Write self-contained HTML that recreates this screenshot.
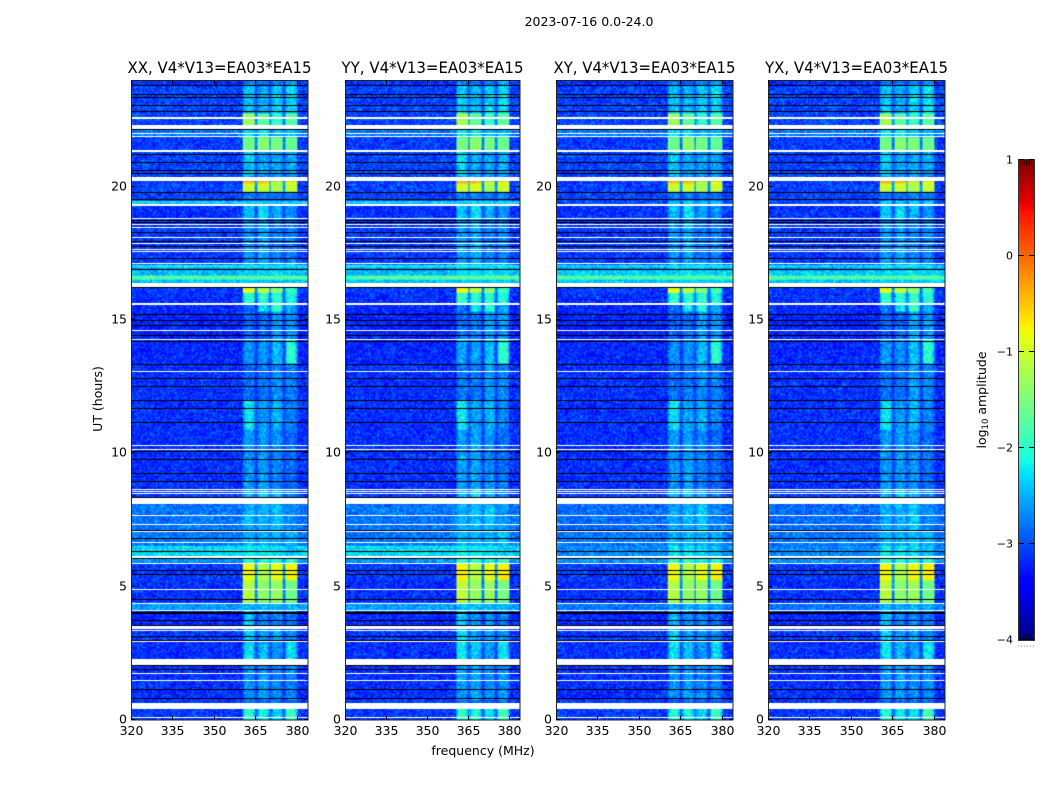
<!DOCTYPE html>
<html>
<head>
<meta charset="utf-8">
<title>2023-07-16 0.0-24.0</title>
<style>
html,body{margin:0;padding:0;background:#fff;}
#page{position:relative;width:1050px;height:800px;overflow:hidden;background:#fff;}
canvas{position:absolute;}
svg{position:absolute;left:0;top:0;}
text{font-family:"DejaVu Sans","Liberation Sans",sans-serif;fill:#000;}
</style>
</head>
<body>
<div id="page">
<svg id="overlay" width="1050" height="800">
  <text x="589" y="26" text-anchor="middle" font-size="12.5">2023-07-16 0.0-24.0</text>
  <text x="483" y="755" text-anchor="middle" font-size="12.5">frequency (MHz)</text>
  <text transform="translate(102,399) rotate(-90)" text-anchor="middle" font-size="12.5">UT (hours)</text>
  <text transform="translate(986,400) rotate(-90)" text-anchor="middle" font-size="12.5">log<tspan font-size="8.5" dy="2">10</tspan><tspan dy="-2"> amplitude</tspan></text>
</svg>
</div>
<script>
// ---- chart data (log10 amplitude, UT hours, MHz) ----
const panelTitles = ["XX, V4*V13=EA03*EA15","YY, V4*V13=EA03*EA15","XY, V4*V13=EA03*EA15","YX, V4*V13=EA03*EA15"];
const xTickLabels = [320,335,350,365,380];
const yTickLabels = [0,5,10,15,20];
const colorbarTicks = [1,0,-1,-2,-3,-4];
const panelIsCross = [false,false,true,true];
const panelBandOffset = [[0,0,0,0],[0.06,0.05,0.03,0.05],[0,0.03,0,0],[0.02,0,0.06,0.03]];
const bandStartMHz = [360.5,365.7,370.7,375.7];
const bandEndMHz = [364.9,369.9,374.9,380];
// Time segments: edges in UT, top to bottom; one level per segment in the arrays below.
const segmentEdgesUT = [24,23.81,22.76,22.31,21.86,21.34,20.4,20.21,20.1,19.8,19.48,19.37,19.31,18.83,17.14,17.06,16.95,16.88,16.65,16.54,16.39,16.2,16.01,15.6,15.3,14.25,13.35,12,10.88,8.63,8.33,8.1,7.13,6.56,6.15,5.89,5.25,4.39,4.09,3.56,2.93,2.25,0.75,0.45,0];
const backgroundCo = [-3.15,-3.05,-3.05,-2.8,-3.1,-3.05,-3,-3.1,-3.05,-3.05,-2.2,-3,-3.15,-3.1,-2.9,-2.15,-2.7,-2.45,-1.75,-2.4,-2,-3.1,-3.15,-3.2,-3.22,-3.2,-3.15,-3.15,-3.15,-3.1,-2.9,-2.8,-2.8,-2.3,-2.65,-3.1,-3.15,-2.6,-3.2,-3.1,-3.15,-3.15,-3.1,-3.1];
const backgroundCross = [-3.15,-3.05,-3.05,-2.8,-3.1,-3.05,-3,-3.1,-3.05,-3.05,-3,-3,-3.15,-3.1,-2.9,-2.3,-2.7,-2.35,-1.8,-2.4,-2.05,-3.1,-3.15,-3.2,-3.22,-3.2,-3.15,-3.15,-3.15,-3.1,-2.9,-2.85,-2.8,-2.7,-2.65,-3.1,-3.15,-2.8,-3.2,-3.1,-3.15,-3.15,-3.1,-3.1];
const band1Level = [-2.8,-2.4,-1.3,-2.25,-1.6,-2.35,-2.7,-0.5,-1.05,-2.8,-2.3,-2.7,-2.45,-2.65,-2.5,-2.2,-2.5,-2.35,-1.75,-2.4,-2,-0.9,-1.95,-2.85,-2.9,-2.65,-2.85,-2.25,-2.65,-2.5,-2.7,-2.55,-2.5,-2.2,-1.95,-0.8,-1.15,-2.5,-2.45,-2.35,-2.25,-2.65,-2.9,-2];
const band2Level = [-2.9,-2.5,-1.7,-2.2,-1.45,-2.55,-2.7,-0.55,-1,-2.8,-2.3,-2.7,-2.25,-2.55,-2.5,-2.2,-2.5,-2.3,-1.75,-2.4,-2,-1.15,-1.95,-2.2,-2.85,-2.65,-2.8,-2.6,-2.6,-2.35,-2.7,-2.5,-2.5,-2.2,-1.95,-1.2,-1.4,-2.5,-2.7,-2.6,-2.45,-2.6,-2.9,-2.1];
const band3Level = [-2.75,-2.35,-1.9,-2.45,-1.55,-2.55,-2.7,-1.1,-1.25,-2.8,-2.3,-2.7,-2.55,-2.75,-2.5,-2.2,-2.5,-2.3,-1.75,-2.4,-2,-1.45,-1.95,-1.95,-2.6,-2.45,-2.65,-2.5,-2.7,-2.5,-2.7,-2.4,-2.5,-2.3,-2.05,-0.85,-1.35,-2.5,-2.7,-2.6,-2.65,-2.7,-2.9,-2.3];
const band4Level = [-2.65,-2.3,-1.75,-2.45,-1.65,-2.55,-2.7,-0.85,-1.05,-2.8,-2.3,-2.7,-2.65,-2.75,-2.5,-2.2,-2.5,-2.35,-1.75,-2.4,-2,-1.85,-2.05,-2.55,-2.65,-2,-2.75,-2.75,-2.85,-2.75,-2.7,-2.7,-2.5,-2.4,-1.95,-0.75,-1.6,-2.5,-2.8,-2.7,-2.25,-2.7,-2.9,-1.85];
// Flagged (white) rows and zero-amplitude (black) rows.
const flaggedUT = [22.56,22.24,21.98,21.9,21.33,20.3,19.31,18.81,18.59,18.46,18.1,17.88,17.66,17.56,17.13,16.91,16.3,15.59,14.61,14.28,13.08,10.3,10.15,8.63,8.56,8.49,8.2,7.66,7.35,7.06,6.66,6.12,5.88,4.88,4.38,4.1,3.49,3.34,2.93,2.18,1.75,1.5,0.54,0.09];
const flaggedWidthH = [0.06,0.15,0.05,0.05,0.06,0.16,0.06,0.05,0.05,0.05,0.05,0.05,0.05,0.05,0.05,0.05,0.15,0.06,0.05,0.05,0.05,0.05,0.05,0.05,0.04,0.04,0.21,0.05,0.05,0.05,0.05,0.08,0.05,0.05,0.05,0.05,0.15,0.05,0.05,0.23,0.05,0.05,0.21,0.05];
const zeroRowUT = [23.79,23.46,23.36,23.03,22.8,22.15,21.2,20.91,20.61,20.48,19.79,19.51,18.75,18.66,18.27,17.96,17.75,17.31,16.88,16.21,15.19,15,14.81,14.43,14.21,13.32,12.8,12.51,11.99,11.69,11.16,10.06,9.78,9.25,8.95,8.35,7.1,6.79,6.31,6.04,5.6,5.45,4.53,4.02,3.98,3.75,3.56,3.12,3,2.03,1.88,1.16,0.79];
// Pixel-scale speckle texture offsets (single pixels cannot be read individually).
const speckle = [-0.3,0.12,-0.05,0.42,-0.22,0.05,-0.38,0.25,-0.12,0.6,-0.28,0.02,0.18,-0.42,0.3,-0.08,-0.2,0.48,-0.32,0.1,-0.02,0.22,-0.45,0.35,-0.15,0.08,-0.25,0.55,-0.1,0.15,-0.35,0.28,0,-0.18,0.4,-0.4,0.06,-0.06,0.2,-0.3,0.5,-0.14,-0.24,0.32,-0.04,0.14,-0.36,0.24,-0.2,0.45,-0.1,-0.28,0.1,0.36,-0.44,0.04,-0.16,0.26,-0.34,0.16,0.02];
const bandLevels = [band1Level,band2Level,band3Level,band4Level];

// ---- layout ----
const panelLeft = [131,345,556,768];
const panelWidth = [177,175,177,177];
const titleWidth = [184,182,182,183];
const plotTop = 80, plotHeight = 640;
const freqMin = 320, freqMax = 384, utMax = 24, cbMin = -4, cbMax = 1;
const cbX = 1019, cbY = 160, cbW = 15, cbH = 480;
const svgNS = "http://www.w3.org/2000/svg";
const overlay = document.getElementById("overlay");
const page = document.getElementById("page");

function yOfUT(ut){ return plotTop + plotHeight * (1 - ut / utMax); }
function xOfFreq(p, f){ return panelLeft[p] + panelWidth[p] * (f - freqMin) / (freqMax - freqMin); }
function yOfCb(v){ return cbY + cbH * (cbMax - v) / (cbMax - cbMin); }
function jet(t){
  t = Math.max(0, Math.min(1, t));
  function ramp(pts){
    for (let i = 1; i < pts.length; i++) {
      if (t <= pts[i][0]) {
        const a = pts[i-1], b = pts[i];
        return a[1] + (b[1] - a[1]) * (t - a[0]) / (b[0] - a[0]);
      }
    }
    return pts[pts.length-1][1];
  }
  return [
    ramp([[0,0],[0.35,0],[0.66,1],[0.89,1],[1,0.5]]) * 255,
    ramp([[0,0],[0.125,0],[0.375,1],[0.64,1],[0.91,0],[1,0]]) * 255,
    ramp([[0,0.5],[0.11,1],[0.34,1],[0.65,0],[1,0]]) * 255
  ];
}
function levelColor(v){ return jet((v - cbMin) / (cbMax - cbMin)); }
function segmentAt(ut){
  for (let i = 0; i < segmentEdgesUT.length - 1; i++) {
    if (ut <= segmentEdgesUT[i] && ut >= segmentEdgesUT[i+1]) return i;
  }
  return segmentEdgesUT.length - 2;
}
function cellValue(p, freq, ut, c, r){
  const s = segmentAt(ut);
  const bg = (panelIsCross[p] ? backgroundCross : backgroundCo)[s];
  let v = bg, amp = 0.5;
  const first = bandStartMHz[0], last = bandEndMHz[bandEndMHz.length-1];
  if (freq >= first && freq <= last) {
    let inBand = -1, next = 0;
    for (let b = 0; b < bandStartMHz.length; b++) {
      if (freq >= bandStartMHz[b] && freq <= bandEndMHz[b]) inBand = b;
      if (freq > bandEndMHz[b]) next = b;
    }
    if (inBand >= 0) {
      const lvl = bandLevels[inBand][s] + panelBandOffset[p][inBand];
      if (lvl > -1.8) {
        v = lvl;
        amp = 0.16;
      } else {
        const d = Math.min(freq - bandStartMHz[inBand], bandEndMHz[inBand] - freq);
        const shape = d < 1 ? 0.55 + 0.45 * d : 1;
        v = bg + (lvl - bg) * shape;
        amp = 0.42;
      }
    } else {
      v = bg + 0.22 * (bandLevels[next][s] - bg);
      amp = 0.3;
    }
  }
  const h = (Math.imul(c + 1, 73856093) ^ Math.imul(r + 1, 19349663) ^ Math.imul(p + 1, 83492791)) >>> 0;
  const idx = (h >>> 7) % speckle.length;
  return v + amp * speckle[idx] * 1.5;
}

// ---- heatmap panels ----
panelTitles.forEach(function(title, p){
  const L = panelLeft[p], W = panelWidth[p];
  const cols = Math.round(W / 1.33), rows = Math.round(plotHeight / 1.33);
  const off = document.createElement("canvas");
  off.width = cols; off.height = rows;
  const octx = off.getContext("2d");
  const img = octx.createImageData(cols, rows);
  for (let r = 0; r < rows; r++) {
    const ut = utMax * (1 - (r + 0.5) / rows);
    for (let c = 0; c < cols; c++) {
      const f = freqMin + (freqMax - freqMin) * (c + 0.5) / cols;
      const col = levelColor(cellValue(p, f, ut, c, r));
      const k = (r * cols + c) * 4;
      img.data[k] = col[0]; img.data[k+1] = col[1]; img.data[k+2] = col[2]; img.data[k+3] = 255;
    }
  }
  octx.putImageData(img, 0, 0);

  const cv = document.createElement("canvas");
  
  
  cv.width = W; cv.height = plotHeight;
  cv.style.left = L + "px";
  cv.style.top = plotTop + "px";
  const ctx = cv.getContext("2d");
  ctx.imageSmoothingEnabled = true;
  ctx.drawImage(off, 0, 0, cv.width, cv.height);
  ctx.fillStyle = "#fff";
  flaggedUT.forEach(function(ut, i){
    const h = Math.max(1, Math.round(flaggedWidthH[i] * plotHeight / utMax));
    ctx.fillRect(0, Math.round(yOfUT(ut) - plotTop - h / 2), cv.width, h);
  });
  ctx.fillStyle = "#000";
  zeroRowUT.forEach(function(ut){
    ctx.fillRect(0, Math.round(yOfUT(ut) - plotTop - 0.5), cv.width, 1);
  });
  page.insertBefore(cv, overlay);

  // frame
  const frame = document.createElementNS(svgNS, "rect");
  
  
  frame.setAttribute("x", L + 0.5);
  frame.setAttribute("y", plotTop + 0.5);
  frame.setAttribute("width", W - 0.5);
  frame.setAttribute("height", plotHeight - 0.5);
  frame.setAttribute("fill", "none");
  frame.setAttribute("stroke", "#222");
  frame.setAttribute("stroke-width", "1");
  overlay.appendChild(frame);

  // title
  const tt = document.createElementNS(svgNS, "text");
  
  
  tt.setAttribute("x", L + W / 2);
  tt.setAttribute("y", 73);
  tt.setAttribute("text-anchor", "middle");
  tt.setAttribute("font-size", "16");
  tt.setAttribute("textLength", titleWidth[p]);
  tt.setAttribute("lengthAdjust", "spacingAndGlyphs");
  tt.textContent = title;
  overlay.appendChild(tt);

  // x ticks
  xTickLabels.forEach(function(f){
    const x = Math.round(xOfFreq(p, f)) + 0.5;
    [[plotTop + plotHeight, plotTop + plotHeight - 4],[plotTop, plotTop + 4]].forEach(function(pair){
      const ln = document.createElementNS(svgNS, "line");
      
      
      ln.setAttribute("x1", x); ln.setAttribute("x2", x);
      ln.setAttribute("y1", pair[0]); ln.setAttribute("y2", pair[1]);
      ln.setAttribute("stroke", "#000");
      overlay.appendChild(ln);
    });
    const lb = document.createElementNS(svgNS, "text");
    
    
    lb.setAttribute("x", x);
    lb.setAttribute("y", 735);
    lb.setAttribute("text-anchor", "middle");
    lb.setAttribute("font-size", "12.5");
    lb.textContent = f;
    overlay.appendChild(lb);
  });

  // y ticks
  yTickLabels.forEach(function(u){
    const y = Math.round(yOfUT(u)) - 0.5;
    [[L, L + 4],[L + W, L + W - 4]].forEach(function(pair){
      const ln = document.createElementNS(svgNS, "line");
      
      
      ln.setAttribute("x1", pair[0]); ln.setAttribute("x2", pair[1]);
      ln.setAttribute("y1", y); ln.setAttribute("y2", y);
      ln.setAttribute("stroke", "#000");
      overlay.appendChild(ln);
    });
    const lb = document.createElementNS(svgNS, "text");
    
    
    lb.setAttribute("x", L - 4);
    lb.setAttribute("y", y + 4);
    lb.setAttribute("text-anchor", "end");
    lb.setAttribute("font-size", "12.5");
    lb.textContent = u;
    overlay.appendChild(lb);
  });
});

// ---- colorbar ----
const cb = document.createElement("canvas");


cb.width = cbW; cb.height = cbH;
cb.style.left = cbX + "px";
cb.style.top = cbY + "px";
const cbCtx = cb.getContext("2d");
for (let i = 0; i < cbH; i++) {
  const c = jet(1 - (i + 0.5) / cbH);
  cbCtx.fillStyle = "rgb(" + Math.round(c[0]) + "," + Math.round(c[1]) + "," + Math.round(c[2]) + ")";
  cbCtx.fillRect(0, i, cbW, 1);
}
page.insertBefore(cb, overlay);

const cbFrame = document.createElementNS(svgNS, "rect");


cbFrame.setAttribute("x", cbX - 0.5);
cbFrame.setAttribute("y", cbY - 0.5);
cbFrame.setAttribute("width", cbW + 1);
cbFrame.setAttribute("height", cbH + 1);
cbFrame.setAttribute("fill", "none");
cbFrame.setAttribute("stroke", "#333");
overlay.appendChild(cbFrame);

colorbarTicks.forEach(function(v){
  const y = Math.round(yOfCb(v)) - 0.5;
  [[cbX, cbX + 5],[cbX + cbW, cbX + cbW - 5]].forEach(function(pair){
    const ln = document.createElementNS(svgNS, "line");
    
    
    ln.setAttribute("x1", pair[0]); ln.setAttribute("x2", pair[1]);
    ln.setAttribute("y1", y); ln.setAttribute("y2", y);
    ln.setAttribute("stroke", "#000");
    overlay.appendChild(ln);
  });
  const lb = document.createElementNS(svgNS, "text");
  
  
  lb.setAttribute("x", cbX - 6);
  lb.setAttribute("y", y + 4);
  lb.setAttribute("text-anchor", "end");
  lb.setAttribute("font-size", "11");
  lb.textContent = String(v).replace("-", "\u2212");
  overlay.appendChild(lb);
});
// small end ticks at the top and bottom of the colorbar
[0,1,2,3,4].forEach(function(n){
  const x = cbX + 2.5 + n * 2.5;
  [[cbY, cbY + 5],[cbY + cbH, cbY + cbH - 5]].forEach(function(pair){
    const ln = document.createElementNS(svgNS, "line");
    
    
    ln.setAttribute("x1", x); ln.setAttribute("x2", x);
    ln.setAttribute("y1", pair[0]); ln.setAttribute("y2", pair[1]);
    ln.setAttribute("stroke", "#000");
    ln.setAttribute("stroke-width", "0.7");
    overlay.appendChild(ln);
  });
});
const dots = document.createElementNS(svgNS, "line");


dots.setAttribute("x1", 1018); dots.setAttribute("x2", 1035);
dots.setAttribute("y1", 646); dots.setAttribute("y2", 646);
dots.setAttribute("stroke", "#888");
dots.setAttribute("stroke-width", "1");
dots.setAttribute("stroke-dasharray", "1 2");
overlay.appendChild(dots);
</script>
</body>
</html>
